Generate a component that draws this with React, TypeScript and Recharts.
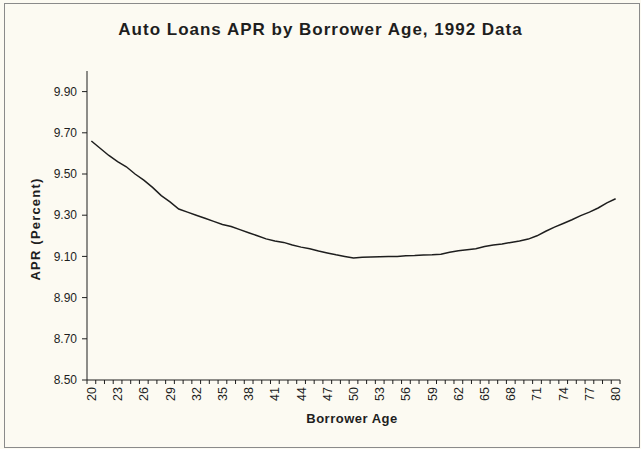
import { LineChart, Line, XAxis, YAxis } from 'recharts';

// Auto loan APR by borrower age, 1992
const ages = [
  20, 21, 22, 23, 24, 25, 26, 27, 28, 29,
  30, 31, 32, 33, 34, 35, 36, 37, 38, 39,
  40, 41, 42, 43, 44, 45, 46, 47, 48, 49,
  50, 51, 52, 53, 54, 55, 56, 57, 58, 59,
  60, 61, 62, 63, 64, 65, 66, 67, 68, 69,
  70, 71, 72, 73, 74, 75, 76, 77, 78, 79, 80,
];
const apr = [
  9.66, 9.625, 9.59, 9.56, 9.535, 9.5, 9.47, 9.435, 9.395, 9.365,
  9.33, 9.315, 9.3, 9.285, 9.27, 9.255, 9.245, 9.23, 9.215, 9.2,
  9.185, 9.175, 9.168, 9.155, 9.145, 9.137, 9.126, 9.117, 9.108, 9.1,
  9.092, 9.096, 9.097, 9.098, 9.099, 9.1, 9.103, 9.104, 9.107, 9.108,
  9.111, 9.12, 9.127, 9.132, 9.137, 9.148, 9.155, 9.16, 9.168, 9.175,
  9.184, 9.2, 9.222, 9.242, 9.26, 9.278, 9.298, 9.315, 9.335, 9.36, 9.38,
];
const yTicks = [8.5, 8.7, 8.9, 9.1, 9.3, 9.5, 9.7, 9.9];

const data = ages.map((age, i) => ({ age, apr: apr[i] }));

const W = 641;
const H = 449;
const PLOT_LEFT = 87;
const PLOT_RIGHT = 620;
const PLOT_TOP = 71;
const PLOT_BOTTOM = 380;
const BAND = (PLOT_RIGHT - PLOT_LEFT) / ages.length;
const FONT = '"Liberation Sans", Arial, sans-serif';
const INK = '#1e1e1e';

// Excel-style category ticks: marks between categories, label every 3 years
const AgeTick = (props: any) => {
  const { x, payload } = props;
  const half = BAND / 2;
  const showLabel = (payload.value - 20) % 3 === 0;
  return (
    <g>
      <line x1={x - half} x2={x - half} y1={PLOT_BOTTOM} y2={PLOT_BOTTOM + 4} stroke={INK} />
      {payload.value === 80 && (
        <line x1={x + half} x2={x + half} y1={PLOT_BOTTOM} y2={PLOT_BOTTOM + 4} stroke={INK} />
      )}
      {showLabel && (
        <text
          transform={`translate(${x + 4.5},${PLOT_BOTTOM + 7}) rotate(-90)`}
          textAnchor="end"
          fontSize={12.5}
          fontFamily={FONT}
          fill={INK}
        >
          {payload.value}
        </text>
      )}
    </g>
  );
};

export default function App() {
  return (
    <div style={{ position: 'absolute', left: 0, top: 0, width: W, height: H, background: '#fcfaf2', fontFamily: FONT }}>
      <div style={{ position: 'absolute', left: 4, top: 3, width: 634, height: 443, border: '1px solid #8a8a8a', pointerEvents: 'none' }} />
      <div style={{ position: 'absolute', left: 0, top: 20, width: W, textAlign: 'center', fontSize: 17, letterSpacing: 1, fontWeight: 'bold', color: INK }}>
        Auto Loans APR by Borrower Age, 1992 Data
      </div>
      <div
        style={{
          position: 'absolute',
          left: 35,
          top: 229,
          transform: 'translate(-50%, -50%) rotate(-90deg)',
          whiteSpace: 'nowrap',
          fontSize: 13,
          letterSpacing: 1.2,
          fontWeight: 'bold',
          color: INK,
        }}
      >
        APR (Percent)
      </div>
      <div style={{ position: 'absolute', left: 352 - 100, top: 411, width: 200, textAlign: 'center', fontSize: 13, letterSpacing: 0.5, fontWeight: 'bold', color: INK }}>
        Borrower Age
      </div>
      <LineChart
        width={W}
        height={H}
        data={data}
        margin={{ top: PLOT_TOP, right: W - PLOT_RIGHT, bottom: H - PLOT_BOTTOM - 45, left: PLOT_LEFT - 50 }}
      >
        <XAxis
          dataKey="age"
          scale="band"
          interval={0}
          height={45}
          tickLine={false}
          axisLine={{ stroke: INK }}
          tick={<AgeTick />}
        />
        <XAxis xAxisId="top" orientation="top" dataKey="age" height={0} tick={false} tickLine={false} axisLine={{ stroke: INK }} />
        <YAxis
          type="number"
          domain={[8.5, 10]}
          ticks={yTicks}
          width={50}
          tickSize={5}
          tickMargin={5}
          tickLine={{ stroke: INK }}
          axisLine={{ stroke: INK }}
          tickFormatter={(v: number) => v.toFixed(2)}
          tick={{ fill: INK, fontSize: 12, fontFamily: FONT }}
        />
        <YAxis yAxisId="right" orientation="right" width={0} tick={false} tickLine={false} axisLine={{ stroke: INK }} />
        <Line
          type="linear"
          dataKey="apr"
          stroke={INK}
          strokeWidth={1.5}
          dot={false}
          isAnimationActive={false}
        />
      </LineChart>
    </div>
  );
}
